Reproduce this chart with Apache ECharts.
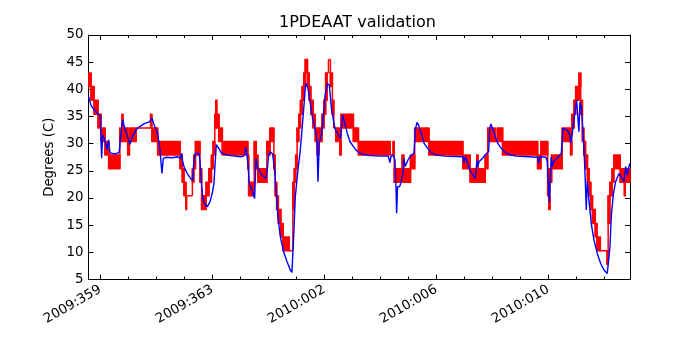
<!DOCTYPE html>
<html>
<head>
<meta charset="utf-8">
<script src="https://cdn.jsdelivr.net/npm/echarts@6/dist/echarts.min.js"></script>
<style>
html,body{margin:0;padding:0;background:#fff;}
#chart{width:700px;height:350px;}
</style>
</head>
<body>
<div id="chart"></div>
<script>
// x values are days after 2009:359
var xTickPos = [0, 4, 8, 12, 16];
var xTickLabels = ['2009:359', '2009:363', '2010:002', '2010:006', '2010:010'];
var xMinorPos = [1, 2, 3, 5, 6, 7, 9, 10, 11, 13, 14, 15, 17, 18];
var yTicks = [5, 10, 15, 20, 25, 30, 35, 40, 45, 50];

// red telemetry: [startDay, endDay, lowLevel, highLevel] (toggling between levels)
var redSegments = [
[-0.42,-0.33,40.5,43.0],[-0.33,-0.22,38.0,40.5],[-0.22,-0.08,35.4,38.0],[-0.08,0.03,32.9,35.4],
[0.03,0.17,30.4,32.9],[0.17,0.30,27.9,30.4],[0.30,0.70,25.4,27.9],[0.70,0.78,30.4,32.9],
[0.78,0.81,32.9,35.4],[0.81,0.98,30.4,32.9],[0.98,1.04,27.9,30.4],[1.04,1.28,30.4,32.9],
[1.28,1.80,32.9,32.9],[1.80,1.84,32.9,35.4],[1.84,2.05,30.4,32.9],[2.05,2.85,27.9,30.4],
[2.85,2.93,25.4,27.9],[2.93,2.99,22.9,25.4],[2.99,3.06,20.4,22.9],[3.06,3.08,17.9,20.4],
[3.08,3.29,20.4,20.4],[3.29,3.34,22.9,25.4],[3.34,3.40,25.4,27.9],[3.40,3.56,27.9,30.4],
[3.56,3.62,22.9,25.4],[3.62,3.78,17.9,20.4],[3.78,3.88,20.4,22.9],[3.88,3.97,22.9,25.4],
[3.97,4.03,25.4,27.9],[4.03,4.09,27.9,30.4],[4.09,4.13,32.9,35.4],[4.13,4.16,35.4,38.0],
[4.16,4.24,32.9,35.4],[4.24,4.36,30.4,32.9],[4.36,5.27,27.9,30.4],[5.27,5.30,25.4,27.9],
[5.30,5.50,20.4,22.9],[5.50,5.57,25.4,30.4],[5.57,5.63,25.4,27.9],[5.63,5.95,22.9,25.4],
[5.95,6.06,27.9,30.4],[6.06,6.20,30.4,32.9],[6.20,6.25,25.4,27.9],[6.25,6.30,20.4,22.9],
[6.30,6.36,17.9,20.4],[6.36,6.45,15.3,17.9],[6.45,6.53,12.8,15.3],[6.53,6.75,10.3,12.8],
[6.75,6.88,10.3,10.3],[6.88,6.93,17.9,22.9],[6.93,6.98,22.9,25.4],[6.98,7.03,25.4,27.9],
[7.03,7.09,30.4,32.9],[7.09,7.15,32.9,35.4],[7.15,7.21,35.4,38.0],[7.21,7.27,38.0,40.5],
[7.27,7.32,40.5,43.0],[7.32,7.40,43.0,45.5],[7.40,7.46,40.5,43.0],[7.46,7.52,38.0,40.5],
[7.52,7.60,35.4,38.0],[7.60,7.68,32.9,35.4],[7.68,7.75,30.4,32.9],[7.75,7.80,27.9,30.4],
[7.80,7.92,30.4,32.9],[7.92,7.99,32.9,35.4],[7.99,8.05,35.4,38.0],[8.05,8.10,38.0,43.0],
[8.10,8.15,43.0,43.0],[8.15,8.22,45.5,45.5],[8.22,8.29,40.5,43.0],[8.29,8.34,35.4,38.0],
[8.34,8.41,32.9,32.9],[8.41,8.56,30.4,32.9],[8.56,8.60,27.9,30.4],[8.60,9.04,32.9,35.4],
[9.04,9.22,30.4,32.9],[9.22,10.35,27.9,30.4],[10.35,10.46,27.9,27.9],[10.46,10.50,27.9,30.4],
[10.50,10.78,22.9,25.4],[10.78,10.84,25.4,27.9],[10.84,11.08,22.9,25.4],[11.08,11.23,25.4,27.9],
[11.23,11.74,30.4,32.9],[11.74,12.95,27.9,30.4],[12.95,13.21,25.4,27.9],[13.21,13.45,22.9,25.4],
[13.45,13.49,25.4,27.9],[13.49,13.75,22.9,25.4],[13.75,13.84,25.4,27.9],[13.84,14.10,30.4,32.9],
[14.10,14.18,30.4,30.4],[14.18,14.37,30.4,32.9],[14.37,15.62,27.9,30.4],[15.62,15.74,25.4,27.9],
[15.74,15.98,27.9,30.4],[15.98,16.02,20.4,25.4],[16.02,16.06,17.9,20.4],[16.06,16.12,22.9,25.4],
[16.12,16.50,25.4,27.9],[16.50,16.80,30.4,32.9],[16.80,16.84,27.9,30.4],[16.84,16.92,32.9,35.4],
[16.92,16.98,35.4,38.0],[16.98,17.10,38.0,40.5],[17.10,17.16,40.5,43.0],[17.16,17.22,35.4,38.0],
[17.22,17.27,30.4,32.9],[17.27,17.33,27.9,30.4],[17.33,17.40,25.4,27.9],[17.40,17.46,22.9,25.4],
[17.46,17.52,20.4,22.9],[17.52,17.58,17.9,20.4],[17.58,17.68,15.3,17.9],[17.68,17.74,12.8,15.3],
[17.74,17.86,10.3,12.8],[17.86,18.10,10.3,10.3],[18.10,18.14,7.8,10.3],[18.14,18.20,15.3,20.4],
[18.20,18.28,20.4,22.9],[18.28,18.34,22.9,25.4],[18.34,18.57,25.4,27.9],[18.57,18.72,22.9,25.4],
[18.72,18.75,20.4,22.9],[18.75,18.92,22.9,25.4]
];

// blue model: [day, degrees C]
var blueData = [
[-0.42,38.7],[-0.333,37.1],[-0.213,36.2],[-0.094,35.6],[0.001,35.1],[0.049,27.3],[0.085,31.6],[0.144,31.0],[0.204,29.8],[0.240,29.0],[0.299,30.7],[0.346,28.3],[0.442,28.2],[0.561,28.1],[0.680,28.5],[0.715,30.7],[0.799,34.4],[0.894,32.5],[0.977,31.3],[1.061,29.9],[1.156,31.4],[1.275,32.5],[1.394,33.1],[1.573,33.7],[1.751,34.0],[1.846,34.7],[1.929,33.4],[2.049,31.9],[2.132,28.8],[2.204,24.5],[2.251,27.3],[2.346,27.5],
[2.394,27.4],[2.573,27.4],[2.751,27.6],[2.846,27.3],[2.906,28.2],[2.930,27.0],[2.989,25.8],[3.108,24.5],[3.227,23.6],[3.299,23.2],[3.346,27.0],[3.406,28.2],[3.465,28.5],[3.525,28.2],[3.561,26.8],[3.608,23.3],[3.656,20.2],[3.727,18.9],[3.823,18.4],[3.918,19.3],[4.001,20.9],[4.061,22.7],[4.096,25.8],[4.144,29.8],[4.240,29.1],[4.323,28.3],[4.418,28.1],[4.656,27.8],[5.013,27.6],
[5.120,27.7],[5.156,28.2],[5.204,29.3],[5.275,26.4],[5.323,22.7],[5.418,21.5],[5.513,19.9],[5.561,27.3],[5.596,26.1],[5.656,25.2],[5.775,24.2],[5.918,23.6],[5.965,25.2],[6.013,27.9],[6.073,28.5],[6.156,28.1],[6.227,25.2],[6.275,21.5],[6.346,16.6],[6.430,12.9],[6.549,10.1],[6.668,8.3],[6.787,6.75],[6.846,6.3],[6.882,6.4],[6.918,14.1],[6.965,20.2],[7.061,25.2],[7.144,28.8],[7.204,32.5],[7.263,36.2],[7.323,40.2],[7.346,41.1],[7.418,40.2],[7.501,37.4],[7.584,34.7],[7.680,32.5],[7.739,30.7],[7.775,23.0],[7.823,30.1],
[7.906,31.9],[7.965,35.0],[8.025,38.7],[8.108,41.0],[8.180,40.8],[8.263,36.2],[8.382,32.8],[8.501,31.6],[8.585,31.0],[8.656,35.3],[8.739,33.7],[8.823,31.9],[8.918,30.4],[9.037,29.5],[9.156,28.7],[9.335,28.1],[9.632,27.8],[9.989,27.7],[10.287,27.7],[10.346,26.5],[10.382,27.6],[10.465,27.9],[10.525,27.0],[10.561,22.1],[10.585,17.2],[10.620,22.1],[10.668,22.4],
[10.692,22.1],[10.751,23.0],[10.811,24.5],[10.846,27.3],[10.894,25.8],[10.990,27.0],[11.108,27.9],[11.204,28.2],[11.251,32.5],[11.311,33.9],[11.370,33.4],[11.465,31.9],[11.561,30.1],[11.608,29.8],[11.704,29.1],[11.823,28.3],[12.001,27.9],[12.299,27.7],[12.954,27.6],[12.989,26.4],[13.037,27.6],[13.108,26.7],[13.192,25.2],[13.311,24.2],[13.394,23.6],
[13.418,23.9],[13.454,27.0],[13.477,25.8],[13.537,26.7],[13.656,27.3],[13.775,28.1],[13.870,28.5],[13.918,33.1],[13.954,33.6],[14.013,32.8],[14.108,31.3],[14.192,30.1],[14.251,29.8],[14.370,28.8],[14.549,28.1],[14.847,27.7],[15.323,27.6],[15.620,27.5],[15.656,26.4],[15.704,27.6],[15.918,27.5],[15.965,26.7],[16.001,22.7],[16.037,19.3],[16.073,23.3],[16.108,27.6],[16.144,25.8],[16.192,26.7],
[16.263,27.0],[16.382,27.7],[16.466,28.2],[16.525,32.8],[16.585,33.1],[16.680,32.5],[16.775,31.6],[16.799,30.1],[16.858,31.9],[16.942,35.3],[17.013,38.0],[17.061,37.7],[17.096,32.2],[17.132,37.7],[17.180,36.8],[17.251,31.3],[17.299,26.4],[17.335,21.5],[17.358,17.8],[17.394,23.0],[17.454,19.6],[17.537,15.3],[17.632,12.3],[17.751,9.8],[17.870,8.0],[17.989,6.75],[18.108,6.1],[18.168,5.8],[18.204,11.0],[18.251,16.6],[18.323,20.6],[18.406,23.0],[18.525,24.5],[18.585,24.8],[18.644,23.6],[18.704,23.0],[18.763,25.8],[18.799,25.2],[18.823,24.2],[18.882,25.8],[18.92,26.4]
];

var FONT = 'DejaVu Sans';
var XMIN = -0.42, XMAX = 18.92;
var chart = echarts.init(document.getElementById('chart'), null, {renderer: 'canvas'});

function xAx(pos, ticks, len, labels, line) {
  return {
    type: 'value', position: pos, min: XMIN, max: XMAX,
    splitLine: {show: false},
    axisLine: {show: line, onZero: false, lineStyle: {color: '#000', width: 1}},
    axisTick: {show: true, inside: true, length: len, customValues: ticks, lineStyle: {color: '#000', width: 1}},
    axisLabel: labels ? {
      show: true, customValues: xTickPos, rotate: 30, margin: 9,
      fontFamily: FONT, fontSize: 13.3, color: '#000',
      formatter: function (v) { var i = xTickPos.indexOf(Math.round(v)); return i >= 0 ? xTickLabels[i] : ''; }
    } : {show: false}
  };
}
function yAx(pos, labels) {
  return {
    type: 'value', position: pos, min: 5, max: 50, interval: 5,
    name: labels ? 'Degrees (C)' : '', nameLocation: 'middle', nameGap: 31,
    nameTextStyle: {fontFamily: FONT, fontSize: 13.3, color: '#000'},
    splitLine: {show: false},
    axisLine: {show: true, onZero: false, lineStyle: {color: '#000', width: 1}},
    axisTick: {show: true, inside: true, length: 5, lineStyle: {color: '#000', width: 1}},
    axisLabel: labels ? {show: true, margin: 5, fontFamily: FONT, fontSize: 13.3, color: '#000'} : {show: false}
  };
}

chart.setOption({
  animation: false,
  backgroundColor: '#fff',
  title: {
    text: '1PDEAAT validation', left: 279, top: 15, padding: 0,
    textStyle: {fontFamily: FONT, fontSize: 16, fontWeight: 'normal', color: '#000'}
  },
  grid: {left: 88.5, right: 70, top: 35, bottom: 70.5, containLabel: false},
  xAxis: [
    xAx('bottom', xTickPos, 5, true, true),
    xAx('bottom', xMinorPos, 3, false, false),
    xAx('top', xTickPos, 5, false, true),
    xAx('top', xMinorPos, 3, false, false)
  ],
  yAxis: [yAx('left', true), yAx('right', false)],
  series: [
    {
      type: 'custom', xAxisIndex: 0, yAxisIndex: 0, clip: true,
      data: redSegments,
      encode: {x: [0, 1], y: [2, 3]},
      renderItem: function (params, api) {
        var i = params.dataIndex;
        var t0 = api.value(0), t1 = api.value(1), lo = api.value(2), hi = api.value(3);
        var p0 = api.coord([t0, hi]), p1 = api.coord([t1, lo]);
        var children = [{
          type: 'rect',
          shape: {x: p0[0], y: p0[1], width: p1[0] - p0[0], height: p1[1] - p0[1]},
          style: {fill: '#ff0000', stroke: '#ff0000', lineWidth: 1.5}
        }];
        if (i > 0) {
          var prev = redSegments[i - 1];
          var a = Math.min(prev[2], lo), b = Math.max(prev[3], hi);
          var q0 = api.coord([t0, a]), q1 = api.coord([t0, b]);
          children.push({type: 'line', shape: {x1: q0[0], y1: q0[1], x2: q1[0], y2: q1[1]},
            style: {stroke: '#ff0000', lineWidth: 1.5}});
        }
        return {type: 'group', children: children};
      },
      z: 2
    },
    {
      type: 'line', xAxisIndex: 0, yAxisIndex: 0, data: blueData,
      showSymbol: false, symbol: 'none', smooth: false,
      lineStyle: {color: '#0000ff', width: 1.4},
      z: 3
    }
  ]
});
</script>
</body>
</html>
